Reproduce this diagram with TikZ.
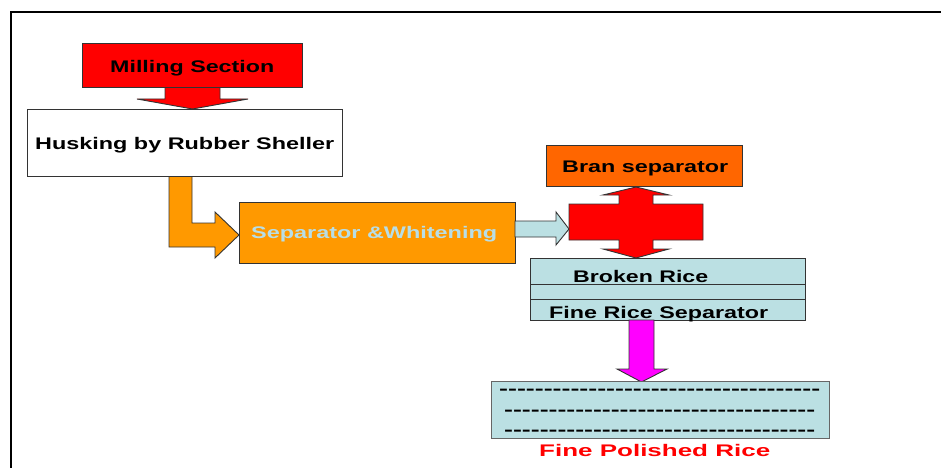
\documentclass[tikz,border=0pt]{standalone}
\usepackage{fontspec}
\usepackage{graphicx}
\setmainfont{Liberation Sans}
\definecolor{cred}{HTML}{FF0000}
\definecolor{corange}{HTML}{FF9900}
\definecolor{cbran}{HTML}{FF6600}
\definecolor{cblue}{HTML}{BBE0E3}
\definecolor{ctxtblue}{HTML}{B8DEE6}
\definecolor{cmag}{HTML}{FF00FF}
\definecolor{cedge}{HTML}{333333}
\newcommand{\tx}[2]{\resizebox{#1pt}{\height}{#2}}
\newcommand{\hyphs}[1]{\count255=0 \loop\hbox{-}\advance\count255 by 1 \ifnum\count255<#1\repeat}
\begin{document}
\begin{tikzpicture}[x=1pt,y=-1pt,
  box/.style={draw=cedge, line width=0.9pt, rectangle, inner sep=0pt, anchor=north west},
  blockarrow/.style={draw=cedge, line width=0.9pt, line join=miter},
  lbl/.style={inner sep=0pt, anchor=base west, font=\bfseries\fontsize{16.8}{20}\selectfont},
  frame/.style={line width=2pt, black}]
\useasboundingbox (0,0) rectangle (941,468);
% frame
\coordinate (ftop) at (941,12);
\coordinate (fcorner) at (11,12);
\coordinate (fbot) at (11,468);
\draw[frame] (ftop) -- (fcorner) -- (fbot);

% Milling section
\draw[blockarrow, fill=cred] (165,87) -- (220,87) -- (220,99) -- (248,99) -- (192.5,109) -- (137,99) -- (165,99) -- cycle;
\node[box, fill=cred, minimum width=220pt, minimum height=44pt] (mill) at (82,43) {};
\node[lbl] (milltxt) at (110,73) {\tx{164}{Milling Section}};

% Husking
\draw[blockarrow, fill=corange] (169,176) -- (192,176) -- (192,223) -- (215,223) -- (215,212) -- (239,235) -- (215,258) -- (215,247) -- (169,247) -- cycle;
\node[box, fill=white, minimum width=315pt, minimum height=67pt] (husk) at (27,109) {};
\node[lbl] (husktxt) at (35,149.3) {\tx{299}{Husking by Rubber Sheller}};

% Separator & Whitening
\node[box, fill=corange, minimum width=276pt, minimum height=61pt] (sep) at (239,202) {};
\node[lbl, text=ctxtblue] (septxt) at (251,238) {\tx{246}{Separator \&Whitening}};

% light blue arrow
\draw[blockarrow, fill=cblue] (515,221) -- (556,221) -- (556,212) -- (569,229) -- (556,245) -- (556,237) -- (515,237) -- cycle;

% Bran separator
\node[box, fill=cbran, minimum width=196pt, minimum height=41pt] (bran) at (546,145) {};
\node[lbl] (brantxt) at (562,172.7) {\tx{166}{Bran separator}};

% red cross double arrow
\draw[blockarrow, fill=cred] (636,187) -- (669,195) -- (653,195) -- (653,204) -- (703,204) -- (703,240) -- (653,240) -- (653,249) -- (669,249) -- (636,258) -- (603,249) -- (619,249) -- (619,240) -- (569,240) -- (569,204) -- (619,204) -- (619,195) -- (603,195) -- cycle;

% Broken rice / fine rice separator
\node[box, fill=cblue, minimum width=275pt, minimum height=62pt] (broken) at (530,258) {};
\coordinate (l1w) at (530,284); \coordinate (l1e) at (805,284);
\coordinate (l2w) at (530,299); \coordinate (l2e) at (805,299);
\draw[cedge, line width=0.9pt] (l1w) -- (l1e);
\draw[cedge, line width=0.9pt] (l2w) -- (l2e);
\node[lbl] (brokentxt) at (573,282.3) {\tx{135}{Broken Rice}};
\node[lbl] (finesep) at (549,318.3) {\tx{219}{Fine Rice Separator}};

% magenta arrow
\draw[blockarrow, fill=cmag] (629,320) -- (654,320) -- (654,369) -- (667,369) -- (641.5,382) -- (617,369) -- (629,369) -- cycle;

% final box
\node[box, draw=black!60, line width=1.2pt, fill=cblue, minimum width=338pt, minimum height=57pt] (final) at (491,381) {};
\node[lbl] (h1) at (499,394.6) {\tx{321}{\hyphs{36}}};
\node[lbl] (h2) at (504,415.6) {\tx{311}{\hyphs{35}}};
\node[lbl] (h3) at (504,435.6) {\tx{311}{\hyphs{35}}};
\node[lbl, text=cred] (finaltxt) at (539,456) {\tx{231}{Fine Polished Rice}};
\end{tikzpicture}
\end{document}
